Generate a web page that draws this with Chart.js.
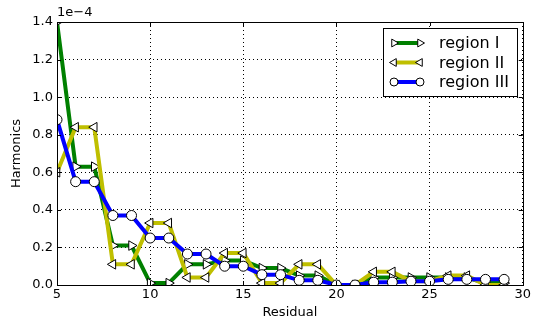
<!DOCTYPE html>
<html>
<head>
<meta charset="utf-8">
<script src="https://cdn.jsdelivr.net/npm/chart.js@4/dist/chart.umd.min.js"></script>
<style>
  html, body { margin: 0; padding: 0; background: #fff; }
  #wrap { width: 533px; height: 320px; }
</style>
</head>
<body>
<div id="wrap"><canvas id="harm" width="533" height="320"></canvas></div>
<script>
// values are in units of 1e-4 (offset label drawn top-left)
const residual = [5, 6, 7, 8, 9, 10, 11, 12, 13, 14, 15, 16, 17, 18, 19, 20, 21, 22, 23, 24, 25, 26, 27, 28, 29];
const regionI   = [1.40, 0.63, 0.63, 0.21, 0.21, 0.01, 0.01, 0.11, 0.11, 0.13, 0.13, 0.09, 0.09, 0.05, 0.05, 0.00, 0.00, 0.04, 0.04, 0.04, 0.04, 0.04, 0.04, 0.01, 0.01];
const regionII  = [0.60, 0.84, 0.84, 0.11, 0.11, 0.33, 0.33, 0.04, 0.04, 0.17, 0.17, 0.01, 0.01, 0.11, 0.11, 0.00, 0.00, 0.07, 0.07, 0.02, 0.02, 0.05, 0.05, 0.00, 0.00];
const regionIII = [0.88, 0.55, 0.55, 0.37, 0.37, 0.25, 0.25, 0.165, 0.165, 0.10, 0.10, 0.055, 0.055, 0.025, 0.025, 0.00, 0.00, 0.015, 0.015, 0.02, 0.02, 0.03, 0.03, 0.03, 0.03];
const seriesNames = ['region I', 'region II', 'region III'];
const xTicks = [5, 10, 15, 20, 25, 30];
const yTicks = [0, 0.2, 0.4, 0.6, 0.8, 1.0, 1.2, 1.4];

const FONT = "'DejaVu Sans', sans-serif";
const colors = ['#008000', '#bfbf00', '#0000ff'];
const markers = [
    { style: 'triangle', rot: 90 },
    { style: 'triangle', rot: -90 },
    { style: 'circle', rot: 0 }
];

function pts(ys) {
    return residual.map((x, i) => ({ x: x, y: ys[i] }));
}

function makeSet(i, ys) {
    return {
        label: seriesNames[i],
        data: pts(ys),
        borderColor: colors[i],
        borderWidth: 4,
        backgroundColor: '#ffffff',
        pointStyle: markers[i].style,
        pointRotation: markers[i].rot,
        pointRadius: markers[i].style === 'circle' ? 5 : 5.5,
        pointBorderColor: '#000000',
        pointBorderWidth: 1,
        pointBackgroundColor: '#ffffff',
        tension: 0,
        clip: 0,
        order: 3 - i
    };
}

// frame, inward ticks, offset text and legend box (matplotlib classic look)
const framePlugin = {
    id: 'frame',
    afterDraw(chart) {
        const ctx = chart.ctx;
        const a = chart.chartArea;
        const xs = chart.scales.x, ys = chart.scales.y;
        ctx.save();
        ctx.strokeStyle = '#000';
        ctx.lineWidth = 1;
        ctx.strokeRect(Math.round(a.left) + 0.5, Math.round(a.top) + 0.5,
            Math.round(a.right - a.left), Math.round(a.bottom - a.top));
        ctx.beginPath();
        xTicks.forEach(v => {
            const p = Math.round(xs.getPixelForValue(v)) + 0.5;
            ctx.moveTo(p, a.bottom); ctx.lineTo(p, a.bottom - 4);
            ctx.moveTo(p, a.top); ctx.lineTo(p, a.top + 4);
        });
        yTicks.forEach(v => {
            const p = Math.round(ys.getPixelForValue(v)) + 0.5;
            ctx.moveTo(a.left, p); ctx.lineTo(a.left + 4, p);
            ctx.moveTo(a.right, p); ctx.lineTo(a.right - 4, p);
        });
        ctx.stroke();

        ctx.fillStyle = '#000';
        ctx.font = '13px ' + FONT;
        ctx.textAlign = 'left';
        ctx.textBaseline = 'bottom';
        ctx.fillText('1e\u22124', a.left, a.top - 3);

        // legend
        const bx = 383.5, by = 28.5, bw = 134, bh = 68;
        ctx.fillStyle = '#fff';
        ctx.fillRect(bx, by, bw, bh);
        ctx.strokeRect(bx, by, bw, bh);
        chart.data.datasets.slice().sort((p, q) => q.order - p.order).forEach((ds, i) => {
            const y = 43 + i * 19.5;
            ctx.strokeStyle = ds.borderColor;
            ctx.lineWidth = 4;
            ctx.beginPath();
            ctx.moveTo(394, y); ctx.lineTo(420, y);
            ctx.stroke();
            [394, 420].forEach(px => {
                const opts = {
                    pointStyle: ds.pointStyle, rotation: ds.pointRotation,
                    radius: ds.pointStyle === 'circle' ? 4 : 4.5, borderWidth: 1
                };
                ctx.fillStyle = '#fff';
                ctx.strokeStyle = '#000';
                ctx.lineWidth = 1;
                Chart.helpers.drawPoint(ctx, opts, px, y);
            });
            ctx.fillStyle = '#000';
            ctx.font = '16px ' + FONT;
            ctx.textBaseline = 'middle';
            ctx.fillText(ds.label, 439, y + 1);
        });
        ctx.restore();
    }
};

new Chart(document.getElementById('harm').getContext('2d'), {
    type: 'line',
    data: {
        datasets: [makeSet(0, regionI), makeSet(1, regionII), makeSet(2, regionIII)]
    },
    options: {
        responsive: false,
        animation: false,
        events: [],
        layout: { padding: { left: 0, right: 8, top: 22, bottom: 0 } },
        plugins: { legend: { display: false }, tooltip: { enabled: false } },
        scales: {
            x: {
                type: 'linear',
                min: 5, max: 30,
                afterBuildTicks: s => { s.ticks = xTicks.map(v => ({ value: v })); },
                afterFit: s => { s.height = 35; },
                ticks: { color: '#000', font: { family: FONT, size: 13 }, padding: 2, maxRotation: 0 },
                grid: { color: '#000', lineWidth: 1, drawTicks: false },
                border: { display: false, dash: [1, 3] },
                title: { display: true, text: 'Residual', color: '#000', font: { family: FONT, size: 13 }, padding: { top: 0, bottom: 0 } }
            },
            y: {
                min: 0, max: 1.4,
                afterBuildTicks: s => { s.ticks = yTicks.map(v => ({ value: v })); },
                afterFit: s => { s.width = 57; },
                ticks: { color: '#000', font: { family: FONT, size: 13 }, padding: 4, callback: v => v.toFixed(1) },
                grid: { color: '#000', lineWidth: 1, drawTicks: false },
                border: { display: false, dash: [1, 3] },
                title: { display: true, text: 'Harmonics', color: '#000', font: { family: FONT, size: 13 }, padding: { top: 9, bottom: 0 } }
            }
        }
    },
    plugins: [framePlugin]
});
</script>
</body>
</html>
